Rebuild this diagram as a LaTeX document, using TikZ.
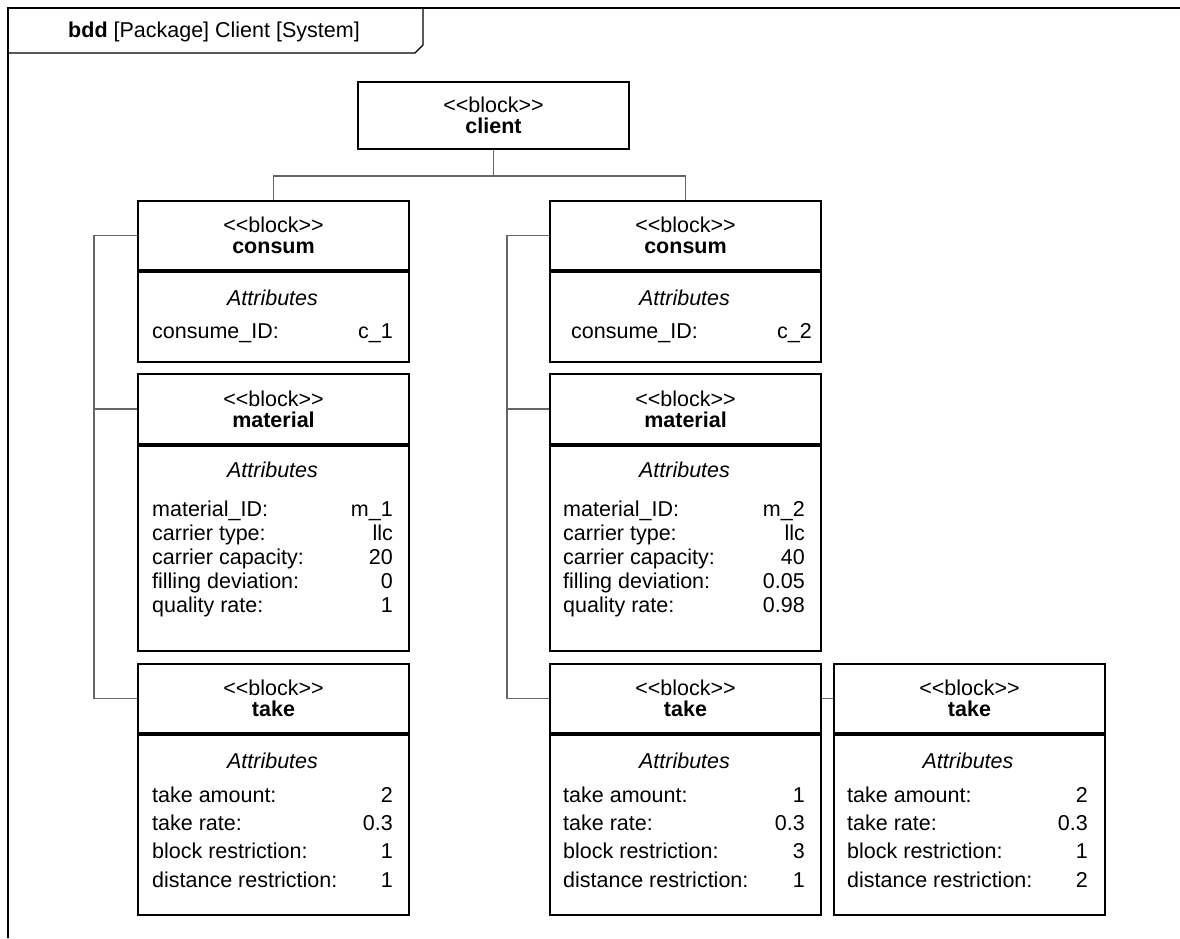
\documentclass[tikz,border=0pt]{standalone}
\usepackage{fontspec}
\setmainfont{Liberation Sans}[Ligatures=TeXOff]
\usetikzlibrary{calc}
\newcommand\attrrow[6]{%
  \node[lbl] (#1l) at (#2,#4) {#5};
  \node[val] (#1v) at (#3,#4) {#6};}
\newcommand\stereo{<{}<block>{}>}
\begin{document}
\begin{tikzpicture}[x=1pt,y=-1pt,
  every node/.style={font=\fontsize{21.5}{21}\selectfont, inner sep=0pt},
  hdr/.style={draw=black, line width=2pt, minimum width=271pt, align=center, anchor=north west},
  cmp/.style={draw=black, line width=2pt, minimum width=271pt, anchor=north},
  lbl/.style={anchor=base west},
  val/.style={anchor=base east},
  ttl/.style={anchor=base, font=\fontsize{21.5}{21}\selectfont\itshape},
  conn/.style={draw=black!60, line width=1.2pt},
  frame/.style={draw=black, line width=1.3pt}]
\useasboundingbox (0,0) rectangle (1180,938);
% frame
\draw[frame] (1180,8) -- (8,8) -- (8,938);
\draw[frame] (8,53) -- (415,53) -- (423,45) -- (423,8);
\node[anchor=base] (title) at (214,37) {\textbf{bdd} [Package] Client [System]};
% client
\node[hdr, minimum height=67pt] (client) at (357,81) {\stereo\\\textbf{client}};
% left column
\node[hdr, minimum height=69pt] (cL) at (137,200) {\stereo\\\textbf{consum}};
\node[cmp, minimum height=90pt] (cLc) at (cL.south) {};
\node[hdr, minimum height=70pt] (mL) at (137,373) {\stereo\\\textbf{material}};
\node[cmp, minimum height=205pt] (mLc) at (mL.south) {};
\node[hdr, minimum height=69pt] (tL) at (137,663) {\stereo\\\textbf{take}};
\node[cmp, minimum height=180pt] (tLc) at (tL.south) {};
% middle column
\node[hdr, minimum height=69pt] (cM) at (549,200) {\stereo\\\textbf{consum}};
\node[cmp, minimum height=90pt] (cMc) at (cM.south) {};
\node[hdr, minimum height=70pt] (mM) at (549,373) {\stereo\\\textbf{material}};
\node[cmp, minimum height=205pt] (mMc) at (mM.south) {};
\node[hdr, minimum height=69pt] (tM) at (549,663) {\stereo\\\textbf{take}};
\node[cmp, minimum height=180pt] (tMc) at (tM.south) {};
% right take
\node[hdr, minimum height=69pt] (tR) at (833,663) {\stereo\\\textbf{take}};
\node[cmp, minimum height=180pt] (tRc) at (tR.south) {};
% attributes titles
\node[ttl] (acL) at (272.5,305) {Attributes};
\node[ttl] (acM) at (684.5,305) {Attributes};
\node[ttl] (amL) at (272.5,477) {Attributes};
\node[ttl] (amM) at (684.5,477) {Attributes};
\node[ttl] (atL) at (272.5,768) {Attributes};
\node[ttl] (atM) at (684.5,768) {Attributes};
\node[ttl] (atR) at (968,768) {Attributes};
% consum rows
\attrrow{cL1}{152}{393}{338}{consume\_ID:}{c\_1}
\attrrow{cM1}{571}{812}{338}{consume\_ID:}{c\_2}
% material rows
\attrrow{mL1}{152}{393}{516}{material\_ID:}{m\_1}
\attrrow{mL2}{152}{393}{540}{carrier type:}{llc}
\attrrow{mL3}{152}{393}{564}{carrier capacity:}{20}
\attrrow{mL4}{152}{393}{588}{filling deviation:}{0}
\attrrow{mL5}{152}{393}{612}{quality rate:}{1}
\attrrow{mM1}{563}{805}{516}{material\_ID:}{m\_2}
\attrrow{mM2}{563}{805}{540}{carrier type:}{llc}
\attrrow{mM3}{563}{805}{564}{carrier capacity:}{40}
\attrrow{mM4}{563}{805}{588}{filling deviation:}{0.05}
\attrrow{mM5}{563}{805}{612}{quality rate:}{0.98}
% take rows
\attrrow{tL1}{152}{393}{802}{take amount:}{2}
\attrrow{tL2}{152}{393}{830}{take rate:}{0.3}
\attrrow{tL3}{152}{393}{858}{block restriction:}{1}
\attrrow{tL4}{152}{393}{887}{distance restriction:}{1}
\attrrow{tM1}{563}{805}{802}{take amount:}{1}
\attrrow{tM2}{563}{805}{830}{take rate:}{0.3}
\attrrow{tM3}{563}{805}{858}{block restriction:}{3}
\attrrow{tM4}{563}{805}{887}{distance restriction:}{1}
\attrrow{tR1}{847}{1088}{802}{take amount:}{2}
\attrrow{tR2}{847}{1088}{830}{take rate:}{0.3}
\attrrow{tR3}{847}{1088}{858}{block restriction:}{1}
\attrrow{tR4}{847}{1088}{887}{distance restriction:}{2}
% connectors
\coordinate (split) at ($(client.south)+(0,26)$);
\draw[conn] (client.south) -- (split) -| (cL.north);
\draw[conn] (split) -| (cM.north);
\coordinate (busL) at (94,0);
\coordinate (busM) at (507,0);
\draw[conn] (cL.west) -- (cL.west -| busL) -- (tL.west -| busL) -- (tL.west);
\draw[conn] (mL.west) -- (mL.west -| busL);
\draw[conn] (cM.west) -- (cM.west -| busM) -- (tM.west -| busM) -- (tM.west);
\draw[conn] (mM.west) -- (mM.west -| busM);
\draw[conn] (tM.east) -- (tR.west);
\end{tikzpicture}
\end{document}
